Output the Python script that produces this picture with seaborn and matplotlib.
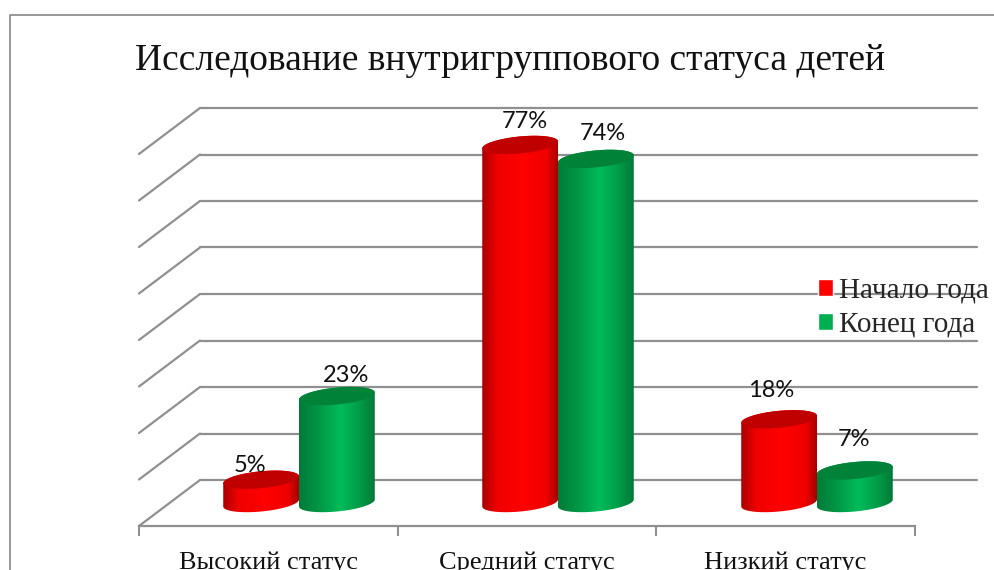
import numpy as np
import pandas as pd
import matplotlib
matplotlib.use("Agg")
import matplotlib.pyplot as plt
import seaborn as sns
from matplotlib.colors import LinearSegmentedColormap
from matplotlib.lines import Line2D
from matplotlib.patches import ConnectionPatch, PathPatch, Polygon
from matplotlib.path import Path

# ---- data ----
title = "Исследование внутригруппового статуса детей"
categories = ["Высокий статус", "Средний статус", "Низкий статус"]
series_names = ["Начало года", "Конец года"]
start_values = [5, 77, 18]
end_values = [23, 74, 7]
y_ticks = [0, 10, 20, 30, 40, 50, 60, 70, 80]

# ---- styles ----
W, H = 995, 570
SERIF = "Liberation Serif"
GRID = "#909090"
palette = {"Начало года": "#FF0000", "Конец года": "#00B050"}
gradient = {
    "Начало года": [(0, "#A80000"), (0.2, "#F00000"), (0.55, "#FF0000"), (0.85, "#F00000"), (1, "#A80000")],
    "Конец года": [(0, "#007A38"), (0.3, "#009C48"), (0.55, "#00BC5A"), (0.8, "#009C48"), (1, "#007A38")],
}
cap_col = {"Начало года": "#C00000", "Конец года": "#008238"}
# label shift from bar top centre, pixels: (category, series)
label_nudge = {(0, 0): (-11, 14), (0, 1): (9, 21),
               (1, 0): (5, 23), (1, 1): (7, 25),
               (2, 0): (-8, 29), (2, 1): (-1, 31)}

sns.set_theme(style="white")
plt.rcParams["font.family"] = [SERIF, "DejaVu Sans"]

fig = plt.figure(figsize=(W / 100, H / 100), dpi=100, facecolor="white")


def axes_px(left, right, bottom, top, **kw):
    return fig.add_axes([left / W, 1 - bottom / H, (right - left) / W, (bottom - top) / H], **kw)


# back wall, front floor edge and the bars' own plane
ax_back = axes_px(200, 977, 480, 108, zorder=0)
ax_front = axes_px(139, 915, 526, 154, zorder=0.5)
ax = axes_px(169.5, 946.5, 503, 131, zorder=1)

for a in (ax_back, ax_front, ax):
    a.set_xlim(-0.5, 2.5)
    a.set_ylim(0, 80)
    a.patch.set_alpha(0)
    for s in a.spines.values():
        s.set_visible(False)

ax_back.set_yticks(y_ticks)
ax_back.set_yticklabels([])
ax_back.set_xticks([])
ax_back.tick_params(left=False)
ax_back.grid(True, axis="y", color=GRID, lw=1.6)
ax_back.set_axisbelow(True)
for ln in ax_back.get_ygridlines():
    ln.set_clip_on(False)

ax_front.spines["bottom"].set_visible(True)
ax_front.spines["bottom"].set_color(GRID)
ax_front.spines["bottom"].set_linewidth(1.6)
ax_front.set_yticks([])
ax_front.set_xticks([0, 1, 2])
ax_front.set_xticklabels(categories, fontsize=19, family=SERIF, color="#111111")
ax_front.set_xticks([-0.5, 0.5, 1.5, 2.5], minor=True)
ax_front.tick_params(axis="x", which="major", length=0, pad=18)
ax_front.tick_params(axis="x", which="minor", length=7, width=1.5, color=GRID, bottom=True)

for v in y_ticks:
    fig.add_artist(ConnectionPatch((-0.5, v), (-0.5, v), coordsA=ax_front.transData,
                                   coordsB=ax_back.transData, color=GRID, lw=1.6, zorder=0.2))

# ---- bars ----
df = pd.DataFrame({
    "Статус": categories * 2,
    "Период": [series_names[0]] * 3 + [series_names[1]] * 3,
    "Значение": start_values + end_values,
})
sns.barplot(data=df, x="Статус", y="Значение", hue="Период", hue_order=series_names,
            palette=palette, width=0.585, gap=0, saturation=1, ax=ax, legend=True)
ax.set_xlim(-0.5, 2.5)
ax.set_ylim(0, 80)
ax.set_xlabel("")
ax.set_ylabel("")
ax.set_xticks([])
ax.set_yticks([])
fig.canvas.draw()

units_per_px = 80 / 372
b_px, k_px = 8.5, 3.5
t_low = np.linspace(np.pi, 2 * np.pi, 60)
t_up = np.linspace(0, np.pi, 60)


def ring(cx, a, level, t):
    return np.column_stack([cx + a * np.cos(t),
                            level + units_per_px * (b_px * np.sin(t) + k_px * np.cos(t))])


for i, name in enumerate(series_names):
    cont = ax.containers[i]
    cmap = LinearSegmentedColormap.from_list(name + "g", gradient[name])
    for j, bar in enumerate(cont.patches):
        x0, w, h = bar.get_x(), bar.get_width(), bar.get_height()
        cx, a = x0 + w / 2, w / 2
        bar.set_visible(False)
        z = 2 + i + j * 0.01
        outline = np.vstack([ring(cx, a, 0, t_low), ring(cx, a, h, t_up)])
        clip = PathPatch(Path(np.vstack([outline, outline[0]]), closed=True),
                         transform=ax.transData, fc="none", ec="none")
        ax.add_patch(clip)
        im = ax.imshow(np.linspace(0, 1, 128)[None, :], cmap=cmap, aspect="auto", vmin=0, vmax=1,
                       extent=(x0, x0 + w, -3, h + 3), zorder=z, interpolation="bilinear")
        im.set_clip_path(clip)
        im.set_clip_box(fig.bbox)
        full = np.linspace(0, 2 * np.pi, 120)
        ax.add_patch(Polygon(ring(cx, a, h, full), closed=True, fc=cap_col[name], ec="none",
                             zorder=z + 0.001, clip_on=False))
        dx, dy = label_nudge[(j, i)]
        ax.annotate(f"{h:.0f}%", (cx, h), xytext=(dx, dy), textcoords="offset pixels",
                    ha="center", va="center", fontsize=17, family=["Lato", "DejaVu Sans"],
                    color="#111111", zorder=6, annotation_clip=False)

ax.set_xlim(-0.5, 2.5)
ax.set_ylim(0, 80)

# ---- legend and title ----
sns.move_legend(ax, loc="upper left", bbox_to_anchor=(815 / W, 1 - 275 / H),
                bbox_transform=fig.transFigure, frameon=False, title=None,
                prop={"family": SERIF, "size": 21}, handlelength=0.52, handleheight=0.52,
                handletextpad=0.22, labelspacing=0.26, borderpad=0.1, borderaxespad=0)
ax.get_legend().set_zorder(7)

fig.text(510 / W, 1 - 61 / H, title, ha="center", va="center", family=SERIF,
         fontsize=27, color="#111111")

# outer chart border (top and left edges in view)
fig.add_artist(Line2D([9.5 / W, 9.5 / W, 1], [0, 1 - 14.5 / H, 1 - 14.5 / H],
                      color="#868686", lw=1.2))

fig.savefig("out.png", dpi=100, facecolor="white")
